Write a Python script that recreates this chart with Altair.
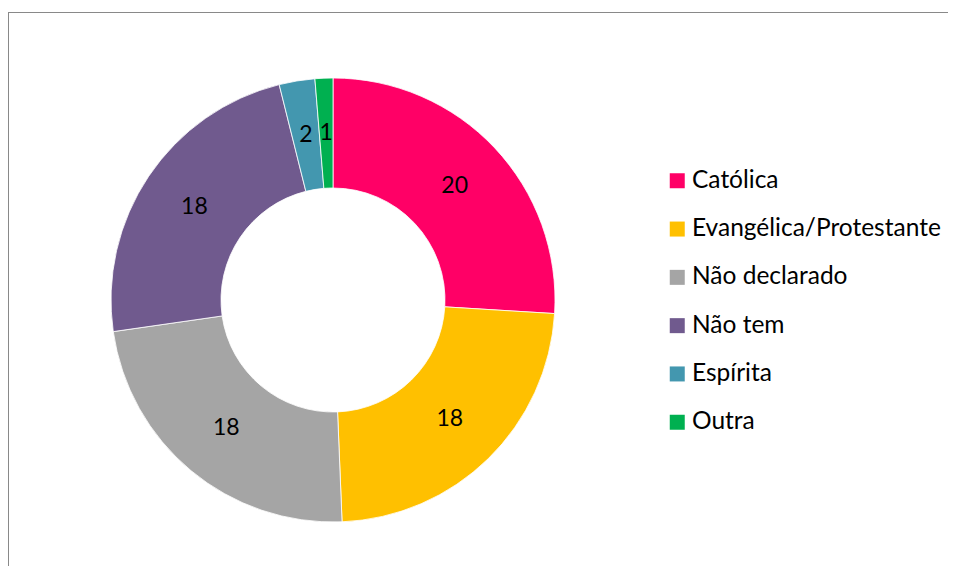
import altair as alt
import pandas as pd

categories = ["Católica", "Evangélica/Protestante", "Não declarado", "Não tem", "Espírita", "Outra"]
values = [20, 18, 18, 18, 2, 1]
colors = ["#FF0066", "#FFC000", "#A5A5A5", "#705A8E", "#4397AF", "#00B050"]

df = pd.DataFrame({"cat": categories, "val": values, "idx": list(range(len(values)))})

FONT = "Lato"
CX, CY = 325, 292

base = alt.Chart(df).encode(
    theta=alt.Theta("val:Q", stack=True),
    order=alt.Order("idx:O"),
)

arcs = base.mark_arc(outerRadius=222, innerRadius=112, stroke="white", strokeWidth=0.8).encode(
    color=alt.Color(
        "cat:N",
        scale=alt.Scale(domain=categories, range=colors),
        sort=categories,
        legend=alt.Legend(
            title=None,
            orient="none",
            legendX=657,
            legendY=160.5,
            symbolType="square",
            symbolSize=225,
            symbolStrokeWidth=0,
            labelFont=FONT,
            labelFontSize=24.5,
            labelColor="black",
            labelOffset=2.5,
            labelLimit=400,
            rowPadding=23.3,
        ),
    ),
    x=alt.value(CX),
    y=alt.value(CY),
)

labels = base.mark_text(radius=167, font=FONT, fontSize=23, color="black").encode(
    text="val:Q",
    x=alt.value(CX),
    y=alt.value(CY),
)

frame = alt.Chart(alt.Data(values=[{}]))
top_line = frame.mark_rule(color="#898989", strokeWidth=1).encode(
    x=alt.value(0), x2=alt.value(940), y=alt.value(4.5)
)
left_line = frame.mark_rule(color="#898989", strokeWidth=1).encode(
    x=alt.value(0.5), y=alt.value(4), y2=alt.value(558)
)

chart = alt.layer(top_line, left_line, arcs, labels).properties(
    width=940, height=558, autosize=alt.AutoSizeParams(type="none"), padding=0
).configure_view(stroke=None)

chart.save("out.html", embed_options={"renderer": "svg", "actions": False})
